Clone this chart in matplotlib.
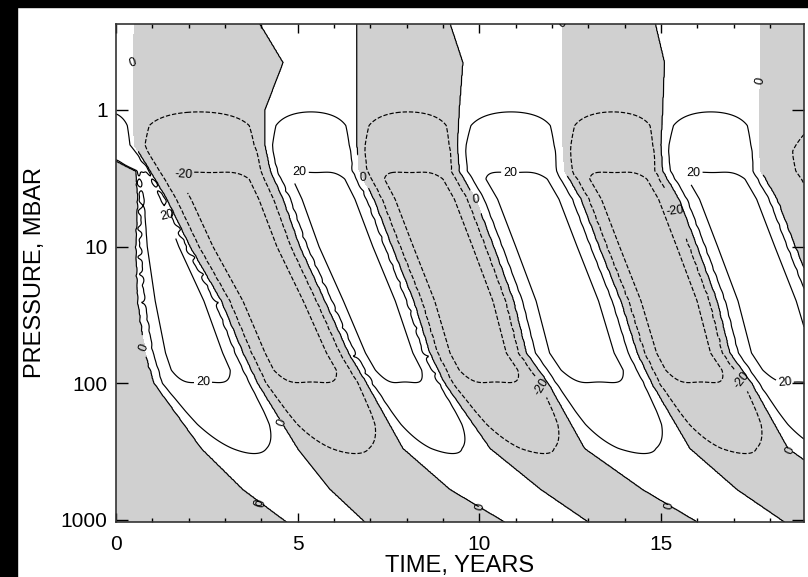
import numpy as np
import matplotlib
matplotlib.use('Agg')
import matplotlib.pyplot as plt
from matplotlib.patches import Rectangle
from matplotlib.ticker import MultipleLocator, NullLocator

plt.rcParams['font.family'] = ['Liberation Sans', 'DejaVu Sans']

# pressure levels (mbar) where the band edges are given
p_ref = [0.235, 0.45, 1.0, 1.8, 2.8, 4.5, 10, 25, 60, 100, 300, 600, 1035]

# easterly (negative) bands: onset / end time (years) at each p_ref level
band_start = [
    [-1.0, -1.0, -1.0, -1.0, -1.0, -1.0, -1.0, -1.0, -1.0, -1.0, -1.0, -1.0, -1.0],
    [0.5, 0.47, 0.47, 0.5, 0.94, 1.4, 2.04, 2.9, 3.5, 3.9, 5.0, 5.9, 6.85],
    [6.63, 6.63, 6.63, 6.63, 6.7, 7.1, 7.6, 8.2, 8.64, 9.05, 10.3, 11.7, 13.0],
    [12.3, 12.3, 12.3, 12.3, 12.35, 12.8, 13.3, 13.9, 14.35, 14.75, 15.8, 17.1, 18.4],
    [17.75, 17.75, 17.7, 17.7, 17.75, 18.2, 18.7, 19.3, 19.75, 20.1, 21.2, 22.5, 23.8],
]
band_end = [
    [-1.0, -1.0, -1.0, -0.9, 0.55, 0.6, 0.55, 0.6, 0.8, 1.05, 2.35, 3.5, 4.7],
    [3.96, 4.6, 4.1, 4.1, 4.25, 4.6, 5.06, 5.75, 6.4, 6.9, 7.9, 9.2, 10.7],
    [9.2, 9.55, 9.45, 9.4, 9.45, 9.9, 10.4, 10.95, 11.3, 11.9, 12.9, 14.5, 16.0],
    [14.85, 15.1, 15.05, 15.0, 15.05, 15.5, 16.0, 16.55, 16.9, 17.5, 18.5, 20.1, 21.6],
    [30.0, 30.0, 30.0, 30.0, 30.0, 30.0, 30.0, 30.0, 30.0, 30.0, 30.0, 30.0, 30.0],
]
band_scale = [0.5, 1.0, 1.0, 1.0, 1.0]

# peak wind speed (m/s) against pressure
amp_p = [0.235, 0.6, 1.0, 1.3, 2.0, 100, 200, 300, 500, 1035]
amp = [10, 14, 19, 27, 31, 31, 26, 21, 15, 11]

# relative weakening in the middle of each band
dip_p = [0.235, 2.2, 3.2, 80, 160, 1035]
dip = [0.0, 0.0, 0.5, 0.5, 0.0, 0.0]

# strength of the ragged shear fronts (m/s) against pressure
rough_p = [0.235, 2.0, 3.0, 100, 200, 1035]
rough = [0, 0, 4, 4, 0, 0]

t_max = 18.94
p_top, p_bot = 0.235, 1035

t = np.linspace(0, t_max, 900)
lp = np.linspace(np.log10(p_top), np.log10(p_bot), 520)
lref = np.log10(p_ref)

starts = np.array([np.interp(lp, lref, s) for s in band_start])
ends = np.array([np.interp(lp, lref, e) for e in band_end])
A = np.interp(lp, np.log10(amp_p), amp)
D = np.interp(lp, np.log10(dip_p), dip)
R = np.interp(lp, np.log10(rough_p), rough)

u = np.zeros((len(lp), len(t)))
for j in range(len(lp)):
    edges = [-5.0]
    for k in range(len(band_start)):
        edges += [starts[k, j], ends[k, j]]
    edges.append(40.0)
    edges = np.array(edges)
    idx = np.searchsorted(edges, t, side='right') - 1
    lo, hi = edges[idx], edges[idx + 1]
    xi = (t - lo) / np.maximum(hi - lo, 1e-6)
    sgn = np.where(idx % 2 == 0, 1.0, -1.0)
    scale = np.where(idx % 2 == 1, np.array(band_scale)[np.clip((idx - 1) // 2, 0, 4)], 1.0)
    h = np.sin(np.pi * xi) ** 0.3
    core = 1 - D[j] * np.exp(-((xi - 0.5) / 0.32) ** 4)
    u[j] = sgn * scale * A[j] * h * core
    # ragged structure right at the shear fronts
    dist = np.minimum(t - lo, hi - t)
    wob = (np.sin(2 * np.pi * lp[j] / 0.11 + 1.3 * idx)
           + 0.6 * np.sin(2 * np.pi * lp[j] / 0.067 + 0.5 * idx + 0.4))
    u[j] += R[j] * np.exp(-(dist / 0.12) ** 2) * wob

P = 10 ** lp

fig = plt.figure(figsize=(8.08, 5.77), dpi=100)
ax = fig.add_axes([116 / 808, 1 - 522 / 577, 688 / 808, 498 / 577])

ax.contourf(t, P, u, levels=[-1000, 0], colors=['#d0d0d0'])
cs = ax.contour(t, P, u, levels=[-20, 0, 20], colors='k', linewidths=0.85,
                linestyles=['--', '-', '-'])

label_pos = [(0.47, 0.32), (6.8, 0.34), (12.28, 0.34), (17.73, 0.32),
             (1.85, 2.2), (1.4, 5.7), (5.06, 2.6), (10.85, 2.85), (15.9, 2.46),
             (9.9, 4.9), (15.4, 5.2), (0.34, 60), (4.5, 195), (2.4, 112),
             (1.8, 780), (4.15, 750), (11.6, 112), (15.5, 780), (17.0, 112),
             (18.4, 112), (18.6, 307), (10.4, 800)]
ax.clabel(cs, fmt={-20: '-20', 0: '0', 20: '20'}, fontsize=9, manual=label_pos,
          inline=True, inline_spacing=2)

ax.set_yscale('log')
ax.set_xlim(0, t_max)
ax.set_ylim(p_bot, p_top)
ax.set_yticks([1, 10, 100, 1000])
ax.set_yticklabels(['1', '10', '100', '1000'])
ax.yaxis.set_minor_locator(NullLocator())
ax.set_xticks([0, 5, 10, 15])
ax.xaxis.set_minor_locator(MultipleLocator(1))
ax.tick_params(which='both', direction='in', top=True, right=True, width=1)
ax.tick_params(axis='y', which='major', length=8.6, labelsize=15, pad=6)
ax.tick_params(axis='x', which='major', length=6.5, labelsize=15, pad=9)
ax.tick_params(axis='x', which='minor', length=3.2)
for s in ax.spines.values():
    s.set_linewidth(1.2)
    s.set_color('#333333')

fig.text(460 / 808, 1 - 566 / 577, 'TIME, YEARS', ha='center', va='center', fontsize=17)
fig.text(35 / 808, 1 - 273 / 577, 'PRESSURE, MBAR', ha='center', va='center',
         rotation=90, fontsize=17)

# black frame strips along the top and left edges
fig.patches.append(Rectangle((0, 1 - 7 / 577), 1, 7 / 577, transform=fig.transFigure,
                             color='k', zorder=10))
fig.patches.append(Rectangle((0, 0), 17 / 808, 1, transform=fig.transFigure,
                             color='k', zorder=10))

fig.savefig('out.png', dpi=100, facecolor='white')
